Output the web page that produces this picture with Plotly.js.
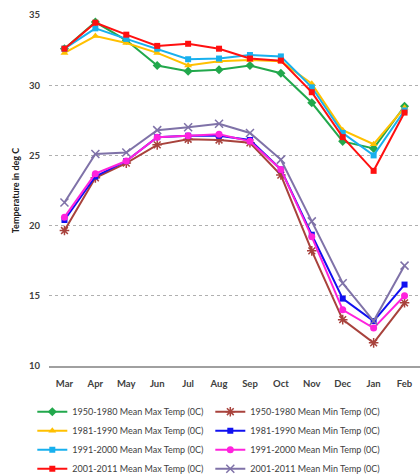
<!DOCTYPE html>
<html>
<head>
<meta charset="utf-8">
<script src="https://cdn.plot.ly/plotly-3.0.1.min.js"></script>
<style>html,body{margin:0;padding:0;background:#fff;}#chart{width:420px;height:475px;}</style>
</head>
<body>
<div id="chart"></div>
<script>
var months = ["Mar","Apr","May","Jun","Jul","Aug","Sep","Oct","Nov","Dec","Jan","Feb"];

var max1950 = [32.6, 34.5, 33.2, 31.4, 31.0, 31.1, 31.4, 30.85, 28.75, 26.0, 25.5, 28.5];
var min1950 = [19.65, 23.4, 24.45, 25.75, 26.15, 26.1, 25.9, 23.6, 18.2, 13.3, 11.65, 14.5];
var max1981 = [32.3, 33.5, 33.0, 32.3, 31.4, 31.7, 31.8, 31.7, 30.1, 26.8, 25.8, 28.4];
var min1981 = [20.4, 23.5, 24.6, 26.3, 26.4, 26.4, 26.1, 24.0, 19.35, 14.8, 13.2, 15.8];
var max1991 = [32.6, 34.05, 33.3, 32.6, 31.85, 31.9, 32.15, 32.05, 29.85, 26.6, 25.0, 28.2];
var min1991 = [20.6, 23.7, 24.6, 26.3, 26.4, 26.5, 26.0, 24.0, 19.2, 14.0, 12.7, 15.0];
var max2001 = [32.6, 34.45, 33.6, 32.8, 32.95, 32.6, 31.9, 31.75, 29.5, 26.3, 23.9, 28.05];
var min2001 = [21.65, 25.1, 25.2, 26.8, 27.0, 27.25, 26.6, 24.7, 20.3, 15.9, 13.2, 17.15];

var seriesNames = [
  "1950-1980 Mean Max Temp (0C)", "1950-1980 Mean Min Temp (0C)",
  "1981-1990 Mean Max Temp (0C)", "1981-1990 Mean Min Temp (0C)",
  "1991-2000 Mean Max Temp (0C)", "1991-2000 Mean Min Temp (0C)",
  "2001-2011 Mean Max Temp (0C)", "2001-2011 Mean Min Temp (0C)"
];
var seriesValues = [max1950, min1950, max1981, min1981, max1991, min1991, max2001, min2001];
var colors = ["#22a84c", "#a8423c", "#ffc000", "#1010f0", "#18b0ee", "#ff22dd", "#ff1010", "#7f72a8"];
var symbols = ["diamond", "asterisk-open", "triangle-up", "square", "square", "circle", "square", "x-thin-open"];
var sizes = [7, 8, 7, 6, 6, 7, 6, 8];

var traces = seriesNames.map(function(n, i) {
  var open = symbols[i].indexOf("open") >= 0;
  return {
    type: "scatter", mode: "lines+markers", name: n,
    x: months, y: seriesValues[i],
    line: {color: colors[i], width: 2},
    marker: {symbol: symbols[i], size: sizes[i], color: colors[i],
             line: {color: colors[i], width: open ? 1.5 : 0}}
  };
});
var layout = {
  width: 420, height: 475,
  margin: {l: 49, r: 0, t: 15, b: 109, autoexpand: false},
  paper_bgcolor: "#fff", plot_bgcolor: "#fff",
  showlegend: true,
  font: {family: "Lato, 'Liberation Sans', sans-serif", color: "#404040"},
  xaxis: {
    type: "category", range: [-0.5, 11.5],
    showgrid: false, zeroline: false,
    showline: true, linecolor: "#a0a0a0", linewidth: 1.5,
    ticks: "", ticklabelstandoff: 8,
    tickfont: {size: 9.5, weight: "bold", color: "#404040"}
  },
  yaxis: {
    range: [10, 35], dtick: 5, zeroline: false,
    showgrid: true, gridcolor: "#b0b0b0", griddash: "dot", gridwidth: 1,
    ticks: "", ticklabelstandoff: 8,
    tickfont: {size: 9.5, weight: "bold", color: "#404040"},
    title: {text: "Temperature in deg C", font: {size: 9, weight: "bold", color: "#202020"}, standoff: 7}
  },
  legend: {
    orientation: "h", x: -0.045, xanchor: "left", y: -0.089, yanchor: "top",
    entrywidthmode: "pixels", entrywidth: 133,
    font: {size: 9, color: "#404040"},
    itemwidth: 30, tracegroupgap: 0
  }
};
Plotly.newPlot("chart", traces, layout, {displayModeBar: false, staticPlot: true});
</script>
</body>
</html>
